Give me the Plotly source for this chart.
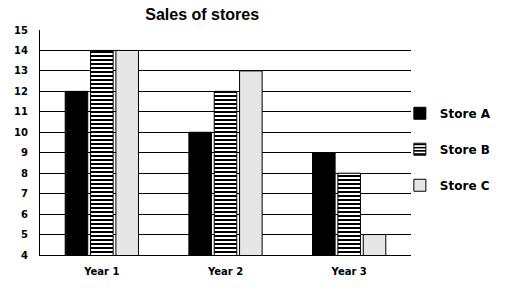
import plotly.graph_objects as go

categories = ["Year 1", "Year 2", "Year 3"]
store_a = [12, 10, 9]
store_b = [14, 12, 8]
store_c = [14, 13, 5]
series_names = ["Store A", "Store B", "Store C"]
y_ticks = list(range(4, 16))

fig = go.Figure()
fig.add_trace(go.Bar(x=categories, y=store_a, name=series_names[0], legendgroup="a",
                     marker=dict(color="black", line=dict(color="black", width=1))))
fig.add_trace(go.Bar(x=categories, y=store_b, name=series_names[1], legendgroup="b",
                     marker=dict(color="white", line=dict(color="black", width=1),
                                 pattern=dict(shape="-", fgcolor="black", bgcolor="white",
                                              size=4, solidity=0.5, fillmode="replace"))))
fig.add_trace(go.Bar(x=categories, y=store_c, name=series_names[2], legendgroup="c",
                     marker=dict(color="#e6e6e6", line=dict(color="black", width=1))))

fig.update_layout(
    width=521, height=295,
    margin=dict(l=40, r=110, t=30, b=40),
    paper_bgcolor="white", plot_bgcolor="white",
    barmode="group", bargap=0.385, bargroupgap=0.11,
    title=dict(text="<b>Sales of stores</b>", x=0.388, xanchor="center", y=0.952, yanchor="middle",
               font=dict(family="Liberation Sans", size=16, color="black")),
    legend=dict(x=0.97, xanchor="left", y=0.47, yanchor="middle", tracegroupgap=17,
                font=dict(family="DejaVu Sans", size=12, color="black", weight="bold"),
                itemwidth=30, bgcolor="rgba(0,0,0,0)"),
    showlegend=True,
)
fig.update_yaxes(range=[4, 15], tickvals=y_ticks, showgrid=True, gridcolor="black", gridwidth=1,
                 showline=True, linecolor="black", linewidth=1, ticks="", zeroline=False,
                 ticklabelstandoff=9,
                 tickfont=dict(family="DejaVu Sans", size=10, color="black", weight="bold"))
fig.update_xaxes(showline=True, linecolor="black", linewidth=1, ticks="", ticklen=0,
                 ticklabelstandoff=7,
                 tickfont=dict(family="DejaVu Sans", size=10, color="black", weight="bold"))

fig.write_html("out.html")
